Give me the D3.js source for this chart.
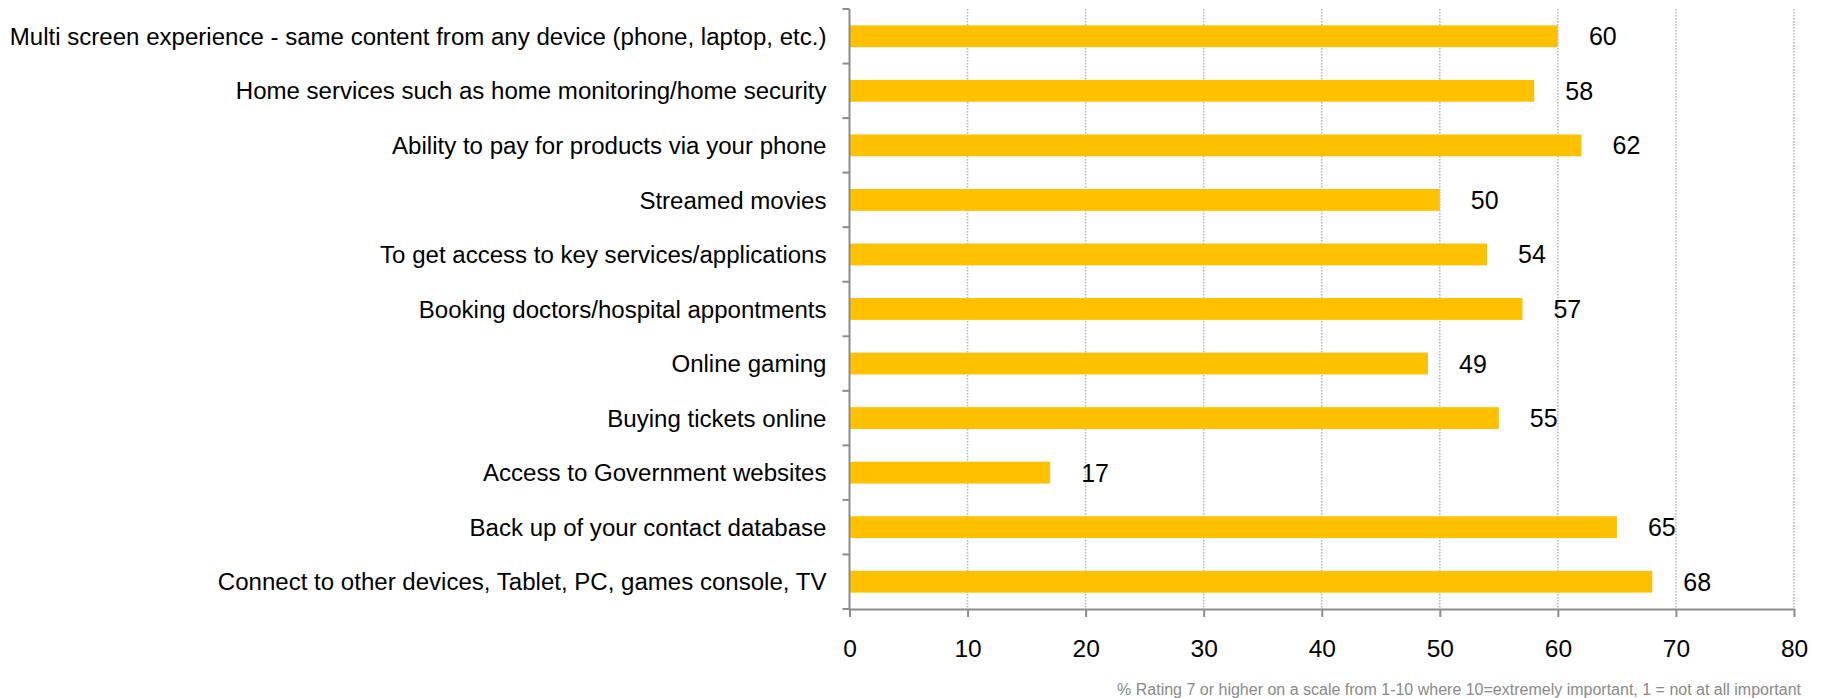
<!DOCTYPE html>
<html><head><meta charset="utf-8">
<script src="https://cdn.jsdelivr.net/npm/d3@7"></script>
<style>html,body{margin:0;padding:0;background:#fff;}svg{display:block;}</style>
</head><body>
<svg id="chart" width="1822" height="698"></svg>
<script>
const categories = [
  "Multi screen experience - same content from any device (phone, laptop, etc.)",
  "Home services such as home monitoring/home security",
  "Ability to pay for products via your phone",
  "Streamed movies",
  "To get access to key services/applications",
  "Booking doctors/hospital appontments",
  "Online gaming",
  "Buying tickets online",
  "Access to Government websites",
  "Back up of your contact database",
  "Connect to other devices, Tablet, PC, games console, TV"
];
const values = [60, 58, 62, 50, 54, 57, 49, 55, 17, 65, 68];
const xTicks = [0, 10, 20, 30, 40, 50, 60, 70, 80];
const footnote = "% Rating 7 or higher on a scale from 1-10 where 10=extremely important, 1 = not at all important";

const svg = d3.select("#chart");
const font = "Liberation Sans, Arial, sans-serif";
const mLeft = 849.5, mRight = 1794, mTop = 9, mBottom = 609;

const x = d3.scaleLinear().domain([0, 80]).range([mLeft, mRight]);
const y = d3.scaleBand().domain(categories).range([mTop, mBottom]).paddingInner(0.6).paddingOuter(0.3);
const band = d3.scaleBand().domain(categories).range([mTop, mBottom]);

// gridlines
svg.append("g").selectAll("line").data(xTicks.filter(d => d > 0)).join("line")
  .attr("x1", d => x(d)).attr("x2", d => x(d))
  .attr("y1", mTop).attr("y2", mBottom)
  .attr("stroke", "#b4b4b4").attr("stroke-width", 1.5).attr("stroke-dasharray", "1.5,1.5");

// bars
svg.append("g").selectAll("rect").data(values).join("rect")
  .attr("x", x(0)).attr("y", (d, i) => y(categories[i]))
  .attr("width", d => x(d) - x(0)).attr("height", y.bandwidth())
  .attr("fill", "#FFC000");

// value labels
svg.append("g").selectAll("text").data(values).join("text")
  .attr("x", d => x(d) + 31).attr("y", (d, i) => y(categories[i]) + y.bandwidth() / 2)
  .attr("dy", "0.36em")
  .attr("font-family", font).attr("font-size", 25).attr("fill", "#000")
  .text(d => d);

// y axis
const yAxisG = svg.append("g").attr("transform", `translate(${mLeft},0)`);
yAxisG.append("line").attr("x1", 0).attr("x2", 0).attr("y1", mTop).attr("y2", mBottom)
  .attr("stroke", "#8c8c8c").attr("stroke-width", 2);
const boundaries = categories.map(c => band(c)).concat([mBottom]);
yAxisG.selectAll("line.t").data(boundaries).join("line").attr("class", "t")
  .attr("x1", -7).attr("x2", 0).attr("y1", d => d).attr("y2", d => d)
  .attr("stroke", "#8c8c8c").attr("stroke-width", 2);
yAxisG.selectAll("text").data(categories).join("text")
  .attr("x", -23).attr("y", d => band(d) + band.bandwidth() / 2)
  .attr("dy", "0.36em").attr("text-anchor", "end")
  .attr("font-family", font).attr("font-size", 24.05).attr("fill", "#000")
  .text(d => d);

// x axis
const xAxis = d3.axisBottom(x).tickValues(xTicks).tickSize(8).tickPadding(23).tickSizeOuter(0);
const xAxisG = svg.append("g").attr("transform", `translate(0,${mBottom})`).call(xAxis);
xAxisG.select(".domain").attr("stroke", "#8c8c8c").attr("stroke-width", 2);
xAxisG.selectAll(".tick line").attr("stroke", "#8c8c8c").attr("stroke-width", 2);
xAxisG.selectAll(".tick text").attr("font-family", font).attr("font-size", 24.5).attr("fill", "#000");

// footnote
svg.append("text").attr("x", 1801).attr("y", 695).attr("text-anchor", "end")
  .attr("font-family", font).attr("font-size", 16).attr("fill", "#898989")
  .text(footnote);
</script>
</body></html>
